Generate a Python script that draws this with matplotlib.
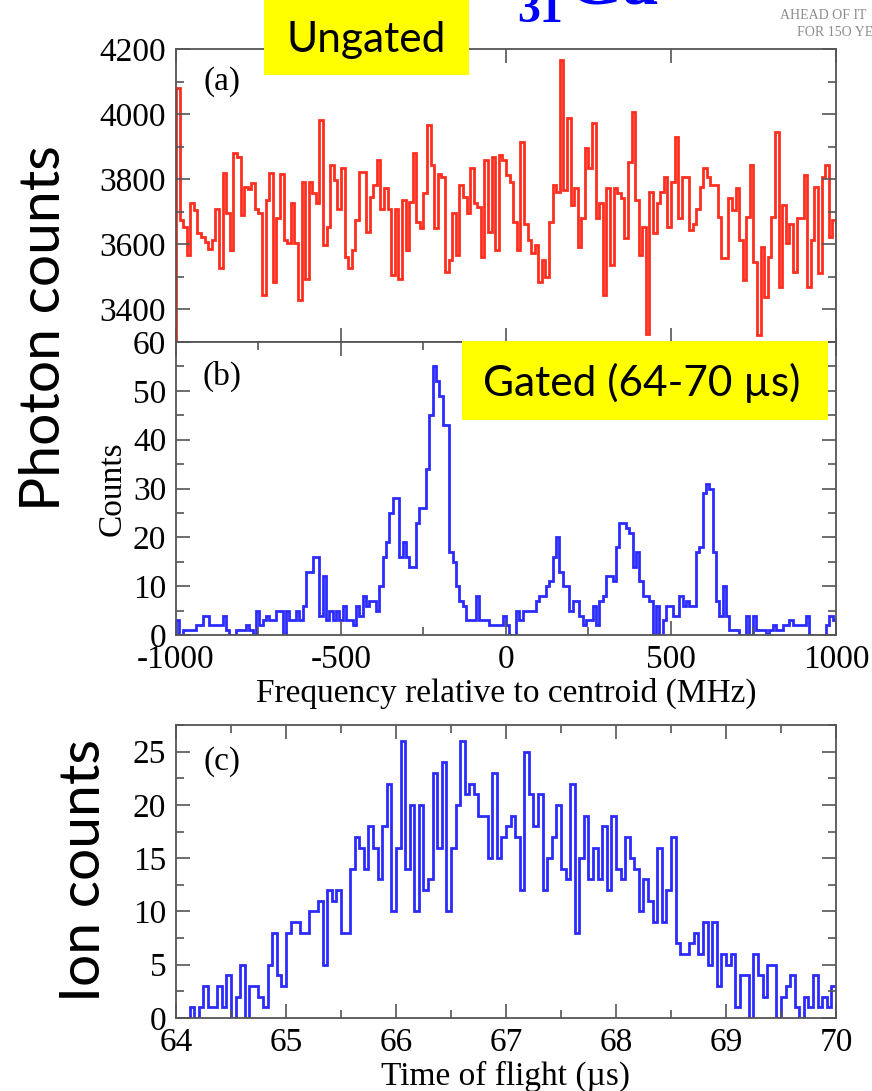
import numpy as np
import matplotlib.pyplot as plt
from matplotlib.patches import Rectangle
from matplotlib.ticker import MultipleLocator, NullLocator

# (a) ungated photon counts, bins spread evenly over -1000..1000 MHz
ungated = [4080, 3675, 3654, 3567, 3726, 3705, 3634, 3623, 3608, 3587,
           3613, 3710, 3526, 3818, 3695, 3582, 3880, 3869, 3690, 3777,
           3770, 3787, 3710, 3695, 3444, 3736, 3818, 3485, 3680, 3815,
           3613, 3603, 3726, 3603, 3429, 3792, 3495, 3792, 3757, 3726,
           3982, 3598, 3654, 3844, 3798, 3710, 3833, 3562, 3526, 3582,
           3675, 3823, 3823, 3639, 3746, 3782, 3859, 3710, 3772, 3710,
           3505, 3710, 3495, 3736, 3582, 3731, 3880, 3669, 3649, 3757,
           3967, 3844, 3649, 3815, 3808, 3516, 3552, 3697, 3567, 3782,
           3746, 3695, 3833, 3726, 3716, 3562, 3859, 3639, 3869, 3582,
           3874, 3859, 3813, 3792, 3669, 3582, 3915, 3664, 3613, 3572,
           3598, 3485, 3552, 3500, 3669, 3782, 3762, 4166, 3767, 3987,
           3721, 3772, 3593, 3680, 3895, 3833, 3972, 3680, 3726, 3444,
           3772, 3536, 3772, 3757, 3741, 3618, 3854, 4008, 3736, 3567,
           3654, 3326, 3762, 3634, 3726, 3762, 3808, 3654, 3792, 3931,
           3680, 3808, 3808, 3644, 3664, 3710, 3777, 3833, 3808, 3782,
           3782, 3685, 3557, 3557, 3741, 3705, 3772, 3613, 3490, 3685,
           3844, 3547, 3321, 3593, 3439, 3562, 3685, 3946, 3470, 3721,
           3603, 3664, 3516, 3680, 3680, 3813, 3470, 3613, 3777, 3511,
           3808, 3844, 3623, 3675]

# (b) gated photon counts (64-70 us)
gated = [3, 0, 1, 1, 1, 1, 2, 2, 4, 4, 2, 2, 2, 2, 4, 1, 0, 0, 1, 1,
         1, 2, 1, 0, 5, 2, 3, 4, 3, 3, 5, 5, 0, 5, 3, 3, 5, 3, 6, 13,
         13, 16, 16, 4, 12, 3, 5, 3, 5, 3, 6, 3, 3, 2, 6, 4, 8, 6, 7, 7,
         5, 10, 16, 19, 25, 28, 28, 16, 19, 16, 14, 14, 23, 26, 26, 34, 45, 55, 52, 49,
         43, 43, 17, 15, 10, 7, 6, 3, 3, 3, 8, 3, 3, 3, 2, 2, 2, 2,
         4, 2, 0, 0, 5, 3, 5, 5, 5, 5, 7, 8, 8, 10, 11, 16, 20, 13, 10, 10,
         5, 7, 7, 4, 2, 3, 3, 6, 2, 7, 8, 12, 12, 11, 18, 23, 23, 22, 21, 14,
         17, 11, 8, 8, 7, 0, 6, 0, 3, 6, 6, 4, 4, 8, 6, 7, 6, 6, 17, 18,
         29, 31, 30, 17, 7, 4, 10, 4, 1, 1, 1, 0, 0, 4, 0, 4, 1, 1, 1, 0,
         1, 2, 1, 1, 2, 2, 3, 2, 2, 2, 2, 4, 0, 0, 0, 0, 0, 2, 4, 3]

# (c) ion time-of-flight counts, 64..70 us
ions = [0, 0, 0, 1, 0, 1, 3, 1, 1, 3, 1, 4, 0, 2, 5, 0, 3, 3, 2, 1,
        5, 8, 4, 3, 8, 9, 9, 8, 8, 10, 10, 11, 5, 12, 11, 12, 8, 8, 14, 17,
        16, 14, 18, 16, 13, 18, 22, 10, 16, 26, 14, 20, 10, 20, 12, 13, 23, 16, 24, 10,
        16, 20, 26, 21, 22, 21, 19, 19, 15, 23, 15, 17,
        18, 19, 17, 12, 25, 21, 18, 21, 12, 15, 17, 20, 14, 13, 22, 8, 15, 19, 13, 16,
        13, 18, 12, 19, 14, 13, 17, 15, 14, 10, 13, 11, 9, 16, 9, 12, 17, 7, 6, 6,
        7, 8, 6, 9, 5, 9, 3, 6, 5, 6, 1, 4, 4, 0, 6, 4, 2, 5, 5, 0,
        2, 3, 4, 1, 0, 2, 1, 4, 1, 2, 1, 3]

freq_lim = (-1000, 1000)
tof_lim = (64, 70)

plt.rcParams['font.family'] = ['Liberation Serif', 'DejaVu Serif']
plt.rcParams['axes.unicode_minus'] = False
SANS = ['Lato', 'DejaVu Sans']
RED = '#ff2f1f'
BLUE = '#2b2bff'
GREY = '#555555'
FS = 24

fig = plt.figure(figsize=(8.72, 10.91), dpi=100)
ax_a = fig.add_axes([0.2018, 0.6865, 0.7569, 0.2686])
ax_b = fig.add_axes([0.2018, 0.4179, 0.7569, 0.2686])
ax_c = fig.add_axes([0.2018, 0.0669, 0.7569, 0.2686])


def style(ax):
    for s in ax.spines.values():
        s.set_color(GREY)
        s.set_linewidth(1.3)
    ax.tick_params(which='both', direction='in', top=True, right=True,
                   color=GREY, labelsize=FS, pad=7, width=1.2)
    ax.tick_params(which='major', length=10)
    ax.tick_params(which='minor', length=6)


ax_a.stairs(ungated, np.linspace(*freq_lim, len(ungated) + 1), color=RED, lw=2)
ax_a.set_xlim(freq_lim)
ax_a.set_ylim(3300, 4200)
ax_a.xaxis.set_major_locator(MultipleLocator(500))
ax_a.xaxis.set_minor_locator(NullLocator())
ax_a.yaxis.set_major_locator(MultipleLocator(200))
ax_a.yaxis.set_minor_locator(MultipleLocator(100))
style(ax_a)
ax_a.tick_params(axis='x', labelbottom=False)
ax_a.text(0.07, 0.89, '(a)', transform=ax_a.transAxes, ha='center', va='center', fontsize=FS)

ax_b.stairs(gated, np.linspace(*freq_lim, len(gated) + 1), color=BLUE, lw=2)
ax_b.set_xlim(freq_lim)
ax_b.set_ylim(0, 60)
ax_b.xaxis.set_major_locator(MultipleLocator(500))
ax_b.xaxis.set_minor_locator(MultipleLocator(250))
ax_b.yaxis.set_major_locator(MultipleLocator(10))
ax_b.yaxis.set_minor_locator(MultipleLocator(5))
style(ax_b)
ax_b.set_xlabel('Frequency relative to centroid (MHz)', fontsize=FS, labelpad=2)
ax_b.set_ylabel('Counts', fontsize=FS, labelpad=4)
ax_b.text(0.07, 0.884, '(b)', transform=ax_b.transAxes, ha='center', va='center', fontsize=FS)

ax_c.stairs(ions, np.linspace(*tof_lim, len(ions) + 1), color=BLUE, lw=2)
ax_c.set_xlim(tof_lim)
ax_c.set_ylim(0, 27.5)
ax_c.xaxis.set_major_locator(MultipleLocator(1))
ax_c.xaxis.set_minor_locator(MultipleLocator(0.5))
ax_c.yaxis.set_major_locator(MultipleLocator(5))
ax_c.yaxis.set_minor_locator(MultipleLocator(2.5))
style(ax_c)
ax_c.set_xlabel('Time of flight (µs)', fontsize=FS, labelpad=2)
ax_c.text(0.07, 0.874, '(c)', transform=ax_c.transAxes, ha='center', va='center', fontsize=FS)

# slide annotations
fig.text(0.0688, 0.6994, 'Photon counts', rotation=90, rotation_mode='anchor',
         ha='center', va='baseline', fontsize=41, family=SANS)
fig.text(0.1147, 0.2017, 'Ion counts', rotation=90, rotation_mode='anchor',
         ha='center', va='baseline', fontsize=41, family=SANS)

fig.add_artist(Rectangle((0.3028, 0.9313), 0.2351, 0.08, transform=fig.transFigure,
                         facecolor='#ffff00', edgecolor='none', zorder=5))
fig.text(0.4197, 0.952, 'Ungated', ha='center', va='baseline', fontsize=30.5,
         family=SANS, zorder=6)
fig.add_artist(Rectangle((0.5298, 0.615), 0.4197, 0.0724, transform=fig.transFigure,
                         facecolor='#ffff00', edgecolor='none', zorder=5))
fig.text(0.736, 0.637, 'Gated (64-70 µs)', ha='center', va='baseline', fontsize=30.5,
         family=SANS, zorder=6)

fig.text(0.593, 0.9798, '31', color='#0000ff', fontsize=33, fontweight='bold', va='baseline')
fig.text(0.650, 0.9963, 'Ga', color='#0000ff', fontsize=52, fontweight='bold', va='baseline')
fig.text(0.8945, 0.9826, 'AHEAD OF IT', color='#8c8c8c', fontsize=10, va='baseline')
fig.text(0.914, 0.967, 'FOR 15O YE', color='#8c8c8c', fontsize=10, va='baseline')

fig.savefig('out.png', dpi=100)
